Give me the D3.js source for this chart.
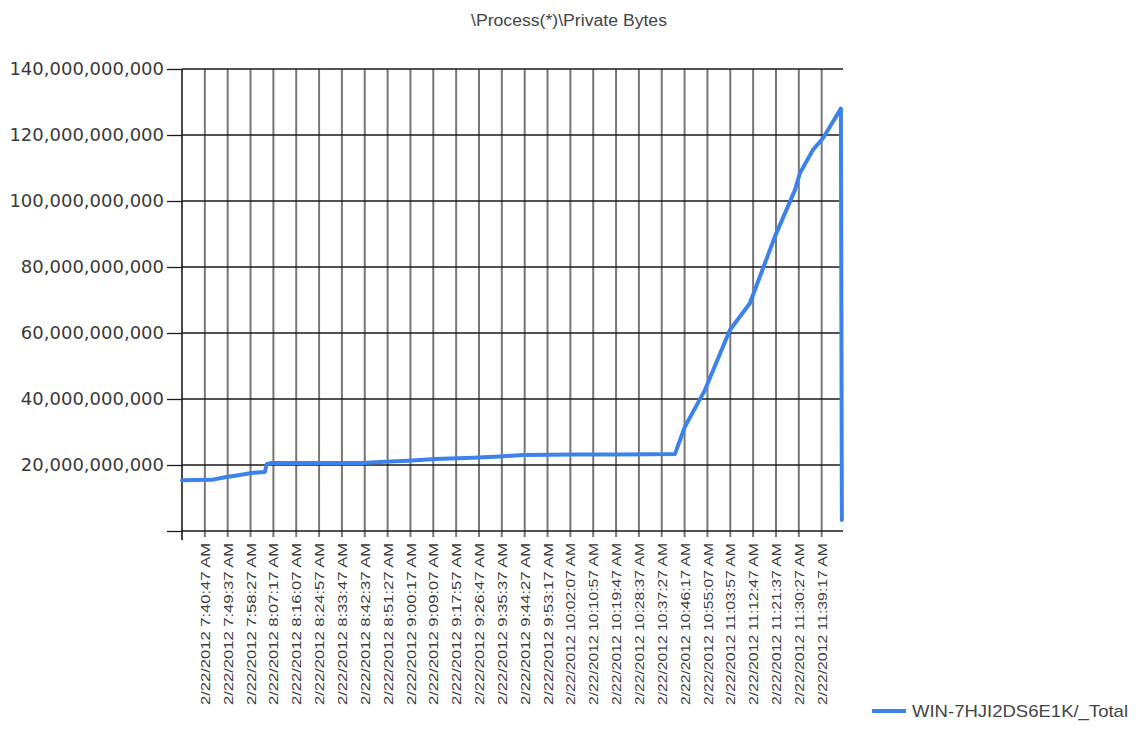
<!DOCTYPE html>
<html>
<head>
<meta charset="utf-8">
<script src="https://cdn.jsdelivr.net/npm/d3@7"></script>
<style>
  html, body { margin: 0; padding: 0; background: #ffffff; }
  svg { display: block; }
</style>
</head>
<body>
<svg id="chart" width="1136" height="729"></svg>
<script>
// ---------- data ----------
const chartTitle = "\\Process(*)\\Private Bytes";
const seriesName = "WIN-7HJI2DS6E1K/_Total";
const datePrefix = "2/22/2012";

// x-axis category labels (time of day, AM)
const tickTimes = [
  "7:40:47", "7:49:37", "7:58:27", "8:07:17", "8:16:07", "8:24:57", "8:33:47",
  "8:42:37", "8:51:27", "9:00:17", "9:09:07", "9:17:57", "9:26:47", "9:35:37",
  "9:44:27", "9:53:17", "10:02:07", "10:10:57", "10:19:47", "10:28:37", "10:37:27",
  "10:46:17", "10:55:07", "11:03:57", "11:12:47", "11:21:37", "11:30:27", "11:39:17"
];
const axisStart = "7:31:57";
const axisEnd = "11:47:32";

// y-axis ticks (bytes)
const yTicks = [0, 20e9, 40e9, 60e9, 80e9, 100e9, 120e9, 140e9];

// series: sample time and private bytes
const sampleTimes = [
  "7:31:57", "7:43:29", "7:48:31", "7:54:19", "7:58:50", "8:03:59", "8:04:45",
  "8:06:41", "8:17:31", "8:41:29", "8:50:23", "8:59:17", "9:09:43", "9:24:25",
  "9:34:52", "9:43:45", "10:03:05", "10:21:15", "10:42:32", "10:46:24", "10:54:08",
  "11:03:48", "11:11:32", "11:21:12", "11:28:56", "11:30:52", "11:35:54", "11:39:46",
  "11:42:28", "11:46:43", "11:47:06"
];
const sampleBytes = [
  15.4e9, 15.5e9, 16.3e9, 17.0e9, 17.6e9, 17.9e9, 20.3e9,
  20.6e9, 20.6e9, 20.6e9, 21.0e9, 21.3e9, 21.8e9, 22.2e9,
  22.6e9, 23.0e9, 23.2e9, 23.2e9, 23.3e9, 31.6e9, 42.7e9,
  60.9e9, 69.0e9, 89.2e9, 103.3e9, 108.4e9, 115.5e9, 119.0e9,
  122.5e9, 128.0e9, 3.3e9
];

// ---------- helpers ----------
function toSec(s) {
  const p = s.split(":").map(Number);
  return p[0] * 3600 + p[1] * 60 + p[2];
}

const svg = d3.select("#chart");
const plotLeft = 182, plotRight = 843, plotTop = 69, plotBottom = 531;

const x = d3.scaleLinear()
  .domain([toSec(axisStart), toSec(axisEnd)])
  .range([plotLeft, plotRight]);
const y = d3.scaleLinear()
  .domain([0, 140e9])
  .range([plotBottom, plotTop]);

const textColor = "#3a3a3a";

// title
svg.append("text")
  .attr("x", 569).attr("y", 26)
  .attr("text-anchor", "middle")
  .attr("font-family", "'Liberation Sans', Arial, sans-serif")
  .attr("font-size", 16)
  .attr("fill", "#444")
  .attr("textLength", 196)
  .attr("lengthAdjust", "spacingAndGlyphs")
  .text(chartTitle);

// vertical grid lines (with tick extension below the axis)
svg.append("g").selectAll("line")
  .data(tickTimes)
  .join("line")
  .attr("x1", d => x(toSec(d))).attr("x2", d => x(toSec(d)))
  .attr("y1", y(140e9)).attr("y2", y(0) + 6)
  .attr("stroke", "#777777")
  .attr("stroke-width", 2);

// horizontal grid lines
svg.append("g").selectAll("line")
  .data(yTicks)
  .join("line")
  .attr("x1", plotLeft).attr("x2", plotRight)
  .attr("y1", d => y(d)).attr("y2", d => y(d))
  .attr("stroke", "#1a1a1a")
  .attr("stroke-width", 1.3);

// y axis
const yAxis = d3.axisLeft(y)
  .tickValues(yTicks)
  .tickSize(15)
  .tickPadding(3)
  .tickFormat(d => d === 0 ? "" : d3.format(",")(d));
const gy = svg.append("g")
  .attr("transform", `translate(${plotLeft},0)`)
  .call(yAxis);
gy.select(".domain").remove();
gy.selectAll(".tick line").attr("stroke", "#1a1a1a").attr("stroke-width", 1.3);
gy.selectAll(".tick text")
  .attr("font-family", "'DejaVu Sans', Verdana, sans-serif")
  .attr("font-size", 18)
  .attr("fill", textColor);

// y axis line (extends slightly below)
svg.append("line")
  .attr("x1", plotLeft).attr("x2", plotLeft)
  .attr("y1", y(140e9)).attr("y2", y(0) + 9)
  .attr("stroke", "#1a1a1a").attr("stroke-width", 1.6);

// x axis labels
const xAxis = d3.axisBottom(x)
  .tickValues(tickTimes.map(toSec))
  .tickSize(0)
  .tickFormat(d => {
    const h = Math.floor(d / 3600), m = Math.floor((d % 3600) / 60), s = d % 60;
    return `${datePrefix} ${h}:${String(m).padStart(2, "0")}:${String(s).padStart(2, "0")} AM`;
  });
const gx = svg.append("g")
  .attr("transform", `translate(0,${plotBottom})`)
  .call(xAxis);
gx.select(".domain").remove();
gx.selectAll(".tick text")
  .attr("font-family", "'Liberation Sans', Arial, sans-serif")
  .attr("font-size", 13)
  .attr("fill", textColor)
  .attr("transform", "rotate(-90)")
  .attr("x", -12).attr("y", 0)
  .attr("dy", "0.35em")
  .attr("text-anchor", "end")
  .attr("textLength", 162)
  .attr("lengthAdjust", "spacingAndGlyphs");

// series line
const series = sampleTimes.map((t, i) => ({ t: toSec(t), v: sampleBytes[i] }));
const lineGen = d3.line().x(d => x(d.t)).y(d => y(d.v));
svg.append("path")
  .datum(series)
  .attr("d", lineGen)
  .attr("fill", "none")
  .attr("stroke", "#3d82ea")
  .attr("stroke-width", 4)
  .attr("stroke-linejoin", "round")
  .attr("stroke-linecap", "round");

// legend
const lg = svg.append("g").attr("transform", "translate(872,711)");
lg.append("line")
  .attr("x1", 0).attr("x2", 34).attr("y1", 0).attr("y2", 0)
  .attr("stroke", "#3d82ea").attr("stroke-width", 4);
lg.append("text")
  .attr("x", 40).attr("y", 6)
  .attr("font-family", "'Liberation Sans', Arial, sans-serif")
  .attr("font-size", 17)
  .attr("fill", "#444")
  .attr("textLength", 216)
  .attr("lengthAdjust", "spacingAndGlyphs")
  .text(seriesName);
</script>
</body>
</html>
